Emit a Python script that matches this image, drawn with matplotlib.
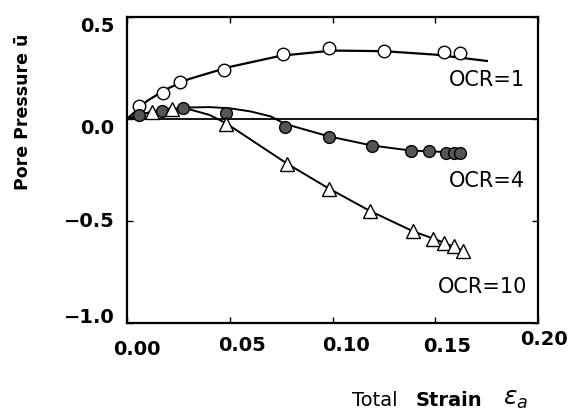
import matplotlib.pyplot as plt
from matplotlib.transforms import ScaledTranslation

# Measured points (total strain, pore pressure)
ocr1_x = [0.006, 0.0175, 0.026, 0.047, 0.076, 0.098, 0.125, 0.154, 0.162]
ocr1_y = [0.064, 0.127, 0.181, 0.240, 0.319, 0.348, 0.333, 0.328, 0.324]

ocr4_x = [0.006, 0.017, 0.027, 0.048, 0.077, 0.098, 0.119, 0.138, 0.147, 0.155, 0.159, 0.162]
ocr4_y = [0.020, 0.039, 0.054, 0.029, -0.039, -0.088, -0.132, -0.157, -0.157, -0.167, -0.167, -0.167]

ocr10_x = [0.012, 0.022, 0.048, 0.078, 0.098, 0.118, 0.139, 0.149, 0.154, 0.159, 0.1635]
ocr10_y = [0.035, 0.050, -0.025, -0.220, -0.343, -0.451, -0.549, -0.588, -0.608, -0.623, -0.647]

# Hand-drawn trend lines
ocr1_fit_x = [0.0, 0.01, 0.02, 0.03, 0.05, 0.075, 0.10, 0.125, 0.15, 0.175]
ocr1_fit_y = [0.0, 0.09, 0.15, 0.195, 0.255, 0.31, 0.335, 0.332, 0.315, 0.284]

ocr4_fit_x = [0.0, 0.01, 0.02, 0.03, 0.04, 0.05, 0.06, 0.07, 0.077, 0.098, 0.119, 0.138, 0.162]
ocr4_fit_y = [0.0, 0.03, 0.048, 0.056, 0.058, 0.052, 0.037, 0.012, -0.025, -0.085, -0.13, -0.155, -0.165]

ocr10_fit_x = [0.0, 0.01, 0.02, 0.03, 0.04, 0.048, 0.06, 0.078, 0.098, 0.118, 0.139, 0.15, 0.16, 0.165]
ocr10_fit_y = [0.0, 0.03, 0.05, 0.048, 0.02, -0.02, -0.1, -0.22, -0.34, -0.45, -0.55, -0.59, -0.63, -0.655]

xticks = [0.0, 0.05, 0.10, 0.15, 0.20]
xtick_labels = ["0.00", "0.05", "0.10", "0.15", "0.20"]
yticks = [0.5, 0.0, -0.5, -1.0]
ytick_labels = ["0.5", "0.0", "\u22120.5", "\u22121.0"]

fig = plt.figure(figsize=(5.72, 4.12), dpi=100)
ax = fig.add_axes([0.222, 0.216, 0.719, 0.743])

ax.axhline(0, color="black", lw=1.3, zorder=1)

ax.plot(ocr1_fit_x, ocr1_fit_y, color="black", lw=1.6, zorder=2)
ax.plot(ocr4_fit_x, ocr4_fit_y, color="black", lw=1.4, zorder=2)
ax.plot(ocr10_fit_x, ocr10_fit_y, color="black", lw=1.4, zorder=2)

ax.plot(ocr1_x, ocr1_y, "o", ms=9, mfc="white", mec="black", mew=1.0, zorder=3)
ax.plot(ocr4_x, ocr4_y, "o", ms=8.5, mfc="#555555", mec="black", mew=1.0, zorder=3)
ax.plot(ocr10_x, ocr10_y, "^", ms=10, mfc="white", mec="black", mew=1.0, zorder=3)

ax.text(0.1935, 0.19, "OCR=1", fontsize=15, ha="right", va="center")
ax.text(0.1935, -0.305, "OCR=4", fontsize=15, ha="right", va="center")
ax.text(0.1945, -0.825, "OCR=10", fontsize=15, ha="right", va="center")

ax.set_xlim(0, 0.2)
ax.set_ylim(-1.0, 0.5)
ax.set_xticks(xticks)
ax.set_xticklabels(xtick_labels)
ax.set_yticks(yticks)
ax.set_yticklabels(ytick_labels)
ax.tick_params(direction="in", length=4, width=1, top=True, right=True,
               labelsize=14, pad=9)

# the printed tick labels are not quite centred on their ticks (pixel nudges)
x_nudge = [(10, -4), (12, 0), (13, 0), (12, -1), (6, 6)]
y_nudge = [(0, -8), (0, -8), (0, 1), (0, 8)]
for lbl, (dx, dy) in zip(ax.get_xticklabels(), x_nudge):
    lbl.set_fontweight("bold")
    lbl.set_transform(lbl.get_transform() + ScaledTranslation(dx / 100, dy / 100, fig.dpi_scale_trans))
for lbl, (dx, dy) in zip(ax.get_yticklabels(), y_nudge):
    lbl.set_fontweight("bold")
    lbl.set_transform(lbl.get_transform() + ScaledTranslation(dx / 100, dy / 100, fig.dpi_scale_trans))
for s in ax.spines.values():
    s.set_linewidth(1.6)

fig.text(0.04, 0.728, "Pore Pressure \u016b", rotation=90,
         fontsize=12.5, fontweight="bold", ha="center", va="center")
fig.text(0.615, 0.028, "Total", fontsize=14, ha="left", va="center")
fig.text(0.727, 0.028, "Strain", fontsize=14, fontweight="bold", ha="left", va="center")
fig.text(0.88, 0.032, "$\\varepsilon_a$", fontsize=18, ha="left", va="center")

fig.savefig("out.png", dpi=100)
